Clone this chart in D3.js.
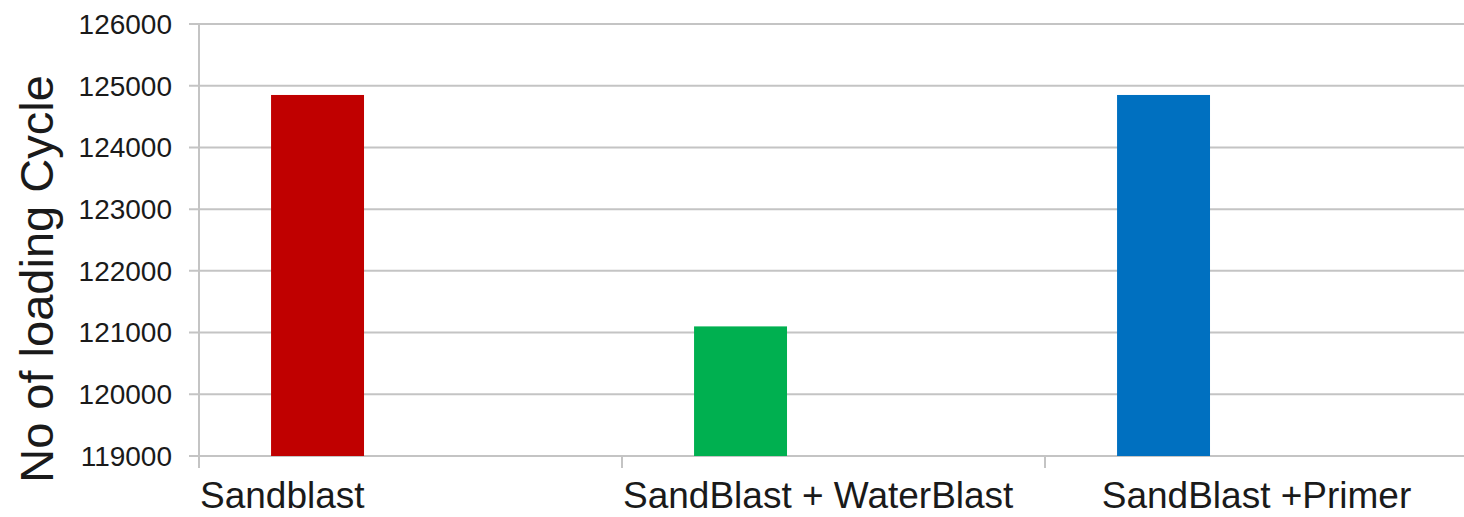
<!DOCTYPE html>
<html>
<head>
<meta charset="utf-8">
<script src="https://cdn.jsdelivr.net/npm/d3@7"></script>
<style>
  html, body { margin: 0; padding: 0; background: #fff; }
  svg { display: block; font-family: "Liberation Sans", Arial, sans-serif; }
</style>
</head>
<body>
<svg id="chart" width="1464" height="517"></svg>
<script>
// Fatigue test results: number of loading cycles per surface treatment
const categories = ["Sandblast", "SandBlast + WaterBlast", "SandBlast +Primer"];
const cycles = [124850, 121100, 124850];
const barColors = ["#c00000", "#00b050", "#0070c0"];
const yTicks = [119000, 120000, 121000, 122000, 123000, 124000, 125000, 126000];
const yTitle = "No of loading Cycle";

const svg = d3.select("#chart");
const plotLeft = 199, plotRight = 1468, plotTop = 24, plotBottom = 456;

const x = d3.scaleBand().domain(categories).range([plotLeft, plotRight]).padding(0);
// each category holds three slots; the bar fills the first one
const slot = d3.scaleBand().domain([0, 1, 2]).range([0, x.bandwidth()])
  .paddingInner(0).paddingOuter(0.775);
const y = d3.scaleLinear().domain([119000, 126000]).range([plotBottom, plotTop]);

const grid = "#c4c4c4";

// horizontal gridlines
svg.append("g").selectAll("line").data(yTicks).join("line")
  .attr("x1", plotLeft - 10).attr("x2", 1464)
  .attr("y1", d => y(d)).attr("y2", d => y(d))
  .attr("stroke", grid).attr("stroke-width", 2);

// vertical axis line
svg.append("line")
  .attr("x1", plotLeft).attr("x2", plotLeft)
  .attr("y1", plotTop).attr("y2", plotBottom + 12)
  .attr("stroke", grid).attr("stroke-width", 2);

// category ticks
svg.append("g").selectAll("line").data(categories.slice(1)).join("line")
  .attr("x1", d => x(d)).attr("x2", d => x(d))
  .attr("y1", plotBottom).attr("y2", plotBottom + 12)
  .attr("stroke", grid).attr("stroke-width", 2);

// y tick labels
svg.append("g").selectAll("text").data(yTicks).join("text")
  .attr("x", 172).attr("y", d => y(d))
  .attr("dy", "0.35em")
  .attr("text-anchor", "end")
  .attr("font-size", 28).attr("fill", "#1a1a1a")
  .text(d => d);

// bars
svg.append("g").selectAll("rect").data(categories).join("rect")
  .attr("x", d => x(d) + slot(0))
  .attr("width", slot.bandwidth())
  .attr("y", (d, i) => y(cycles[i]))
  .attr("height", (d, i) => y(119000) - y(cycles[i]))
  .attr("fill", (d, i) => barColors[i]);

// category labels
svg.append("g").selectAll("text").data(categories).join("text")
  .attr("x", (d, i) => i < 2 ? x(d) + 1 : x(d) + x.bandwidth() / 2)
  .attr("y", 508)
  .attr("text-anchor", (d, i) => i < 2 ? "start" : "middle")
  .attr("font-size", 37).attr("fill", "#1a1a1a")
  .text(d => d);

// y-axis title
svg.append("text")
  .attr("transform", "translate(53,279) rotate(-90)")
  .attr("text-anchor", "middle")
  .attr("font-size", 47).attr("fill", "#1a1a1a")
  .text(yTitle);
</script>
</body>
</html>
